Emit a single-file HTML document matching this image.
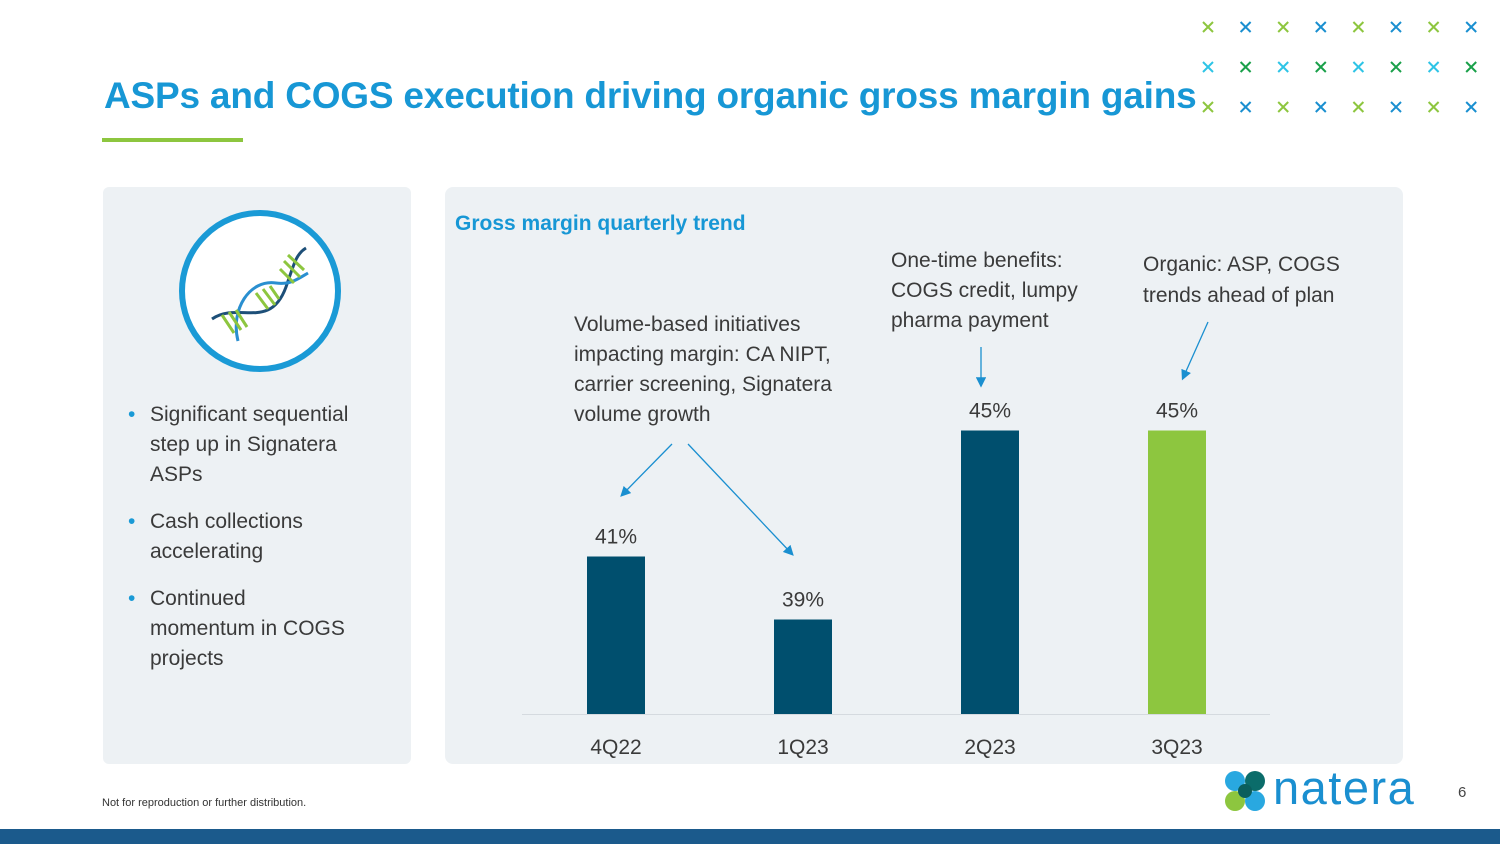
<!DOCTYPE html>
<html><head><meta charset="utf-8"><style>
body{margin:0;width:1500px;height:844px;position:relative;background:#fff;font-family:"Liberation Sans",sans-serif;overflow:hidden}
.abs{position:absolute}
.t{color:#3a3a3a;font-size:21px;line-height:30px}
</style></head><body>
<div class="abs" style="left:104px;top:75px;font-size:37px;font-weight:bold;color:#1797d5;letter-spacing:-0.2px;white-space:nowrap">ASPs and COGS execution driving organic gross margin gains</div>
<div class="abs" style="left:102px;top:138px;width:141px;height:4px;background:#8dc63f"></div>
<svg class="abs" style="left:1190px;top:0" width="310" height="130" id="xp"></svg>
<div class="abs" style="left:103px;top:187px;width:308px;height:577px;background:#edf1f4;border-radius:6px"></div>
<svg class="abs" style="left:178px;top:209px" width="164" height="164">
<circle cx="82" cy="82" r="78" fill="#fff" stroke="#1a9ad6" stroke-width="6"/>
<path d="M34 110 C60 92 92 122 108 78 C116 55 118 45 128 39" fill="none" stroke="#1d4f78" stroke-width="3"/>
<path d="M60 132 C52 100 72 70 98 74 C112 76 120 70 130 64" fill="none" stroke="#2a8fd0" stroke-width="3"/>
<g stroke="#8dc63f" stroke-width="3"><line x1="44" y1="106" x2="56" y2="124"/><line x1="51" y1="103" x2="63" y2="121"/><line x1="58" y1="101" x2="69" y2="118"/>
<line x1="78" y1="84" x2="90" y2="100"/><line x1="85" y1="80" x2="97" y2="96"/><line x1="92" y1="77" x2="101" y2="90"/>
<line x1="106" y1="52" x2="122" y2="68"/><line x1="102" y1="60" x2="116" y2="74"/><line x1="110" y1="46" x2="126" y2="61"/></g>
</svg>
<div class="abs t" style="left:128px;top:400px;width:270px">
<div style="position:relative;padding-left:22px;margin-bottom:17px"><span style="position:absolute;left:0;color:#1a9ad6">•</span>Significant sequential<br>step up in Signatera<br>ASPs</div>
<div style="position:relative;padding-left:22px;margin-bottom:17px"><span style="position:absolute;left:0;color:#1a9ad6">•</span>Cash collections<br>accelerating</div>
<div style="position:relative;padding-left:22px"><span style="position:absolute;left:0;color:#1a9ad6">•</span>Continued<br>momentum in COGS<br>projects</div>
</div>
<div class="abs" style="left:445px;top:187px;width:958px;height:577px;background:#edf1f4;border-radius:8px"></div>
<div class="abs" style="left:455px;top:212px;font-size:21px;font-weight:bold;color:#1797d5">Gross margin quarterly trend</div>
<svg class="abs" style="left:0;top:0" width="1500" height="844" id="ch"></svg>
<div class="abs t" style="left:574px;top:310px;width:300px">Volume-based initiatives impacting margin: CA NIPT, carrier screening, Signatera volume growth</div>
<div class="abs t" style="left:891px;top:246px;width:220px">One-time benefits: COGS credit, lumpy pharma payment</div>
<div class="abs t" style="left:1143px;top:249px;width:230px;line-height:31px">Organic: ASP, COGS trends ahead of plan</div>
<div class="abs" style="left:102px;top:797px;font-size:11px;color:#333">Not for reproduction or further distribution.</div>
<svg class="abs" style="left:1224px;top:770px" width="42" height="42">
<circle cx="11" cy="11" r="10" fill="#29a8e0"/><circle cx="31" cy="11" r="10" fill="#0b6c6a"/><circle cx="11" cy="31" r="10" fill="#8dc63f"/><circle cx="31" cy="31" r="10" fill="#29a8e0"/>
<circle cx="21" cy="21" r="7" fill="#0b5e5c"/></svg>
<div class="abs" style="left:1273px;top:760px;font-size:47px;color:#1a8fd0;letter-spacing:1.5px">natera</div>
<div class="abs" style="left:1458px;top:784px;font-size:15px;color:#444">6</div>
<div class="abs" style="left:0;top:829px;width:1500px;height:15px;background:#1b5a8c"></div>
<script>
const categories=["4Q22","1Q23","2Q23","3Q23"];
const values=[41,39,45,45];
const labels=["41%","39%","45%","45%"];
const colors=["#004f6e","#004f6e","#004f6e","#8dc63f"];
const NS="http://www.w3.org/2000/svg";
const ch=document.getElementById('ch');
const y=v=>714-(v-36)*31.5, x=i=>616+i*187;
function el(t,a){const e=document.createElementNS(NS,t);for(const k in a)e.setAttribute(k,a[k]);ch.appendChild(e);return e;}
const ax=el('line',{x1:522,x2:1270,y1:714.5,y2:714.5,stroke:'#d5dadf'});


categories.forEach((c,i)=>{
 const b=el('rect',{x:x(i)-29,y:y(values[i]),width:58,height:714-y(values[i]),fill:colors[i]});
 
 
 const l=el('text',{x:x(i),y:y(values[i])-13,'text-anchor':'middle','font-size':21,fill:'#3a3a3a'});l.textContent=labels[i];
 
 
 const t=el('text',{x:x(i),y:754,'text-anchor':'middle','font-size':21,fill:'#3a3a3a'});t.textContent=c;
 
 
});
const arrows=[[672,444,622,495],[688,444,792,554],[981,347,981,385],[1208,322,1183,378]];
const defs=el('defs',{});defs.innerHTML='<marker id="ah" markerWidth="8" markerHeight="8" refX="6" refY="4" orient="auto"><path d="M0,0 L8,4 L0,8z" fill="#1a8fd0"/></marker>';
arrows.forEach(a=>{const l=el('line',{x1:a[0],y1:a[1],x2:a[2],y2:a[3],stroke:'#1a8fd0','stroke-width':1.3,'marker-end':'url(#ah)'});
 
 });
const xp=document.getElementById('xp');
const rowCols=[["#8dc63f","#1a8fd0"],["#2ec4e6","#1aa04a"],["#8dc63f","#1a8fd0"]];
for(let r=0;r<3;r++)for(let c=0;c<8;c++){
 const cx=18+c*37.6,cy=27+r*40,col=rowCols[r][c%2];
 const g=document.createElementNS(NS,'path');
 g.setAttribute('d',`M${cx-5} ${cy-5}L${cx+5} ${cy+5}M${cx+5} ${cy-5}L${cx-5} ${cy+5}`);
 g.setAttribute('stroke',col);g.setAttribute('stroke-width','2');xp.appendChild(g);
}
</script>
</body></html>
